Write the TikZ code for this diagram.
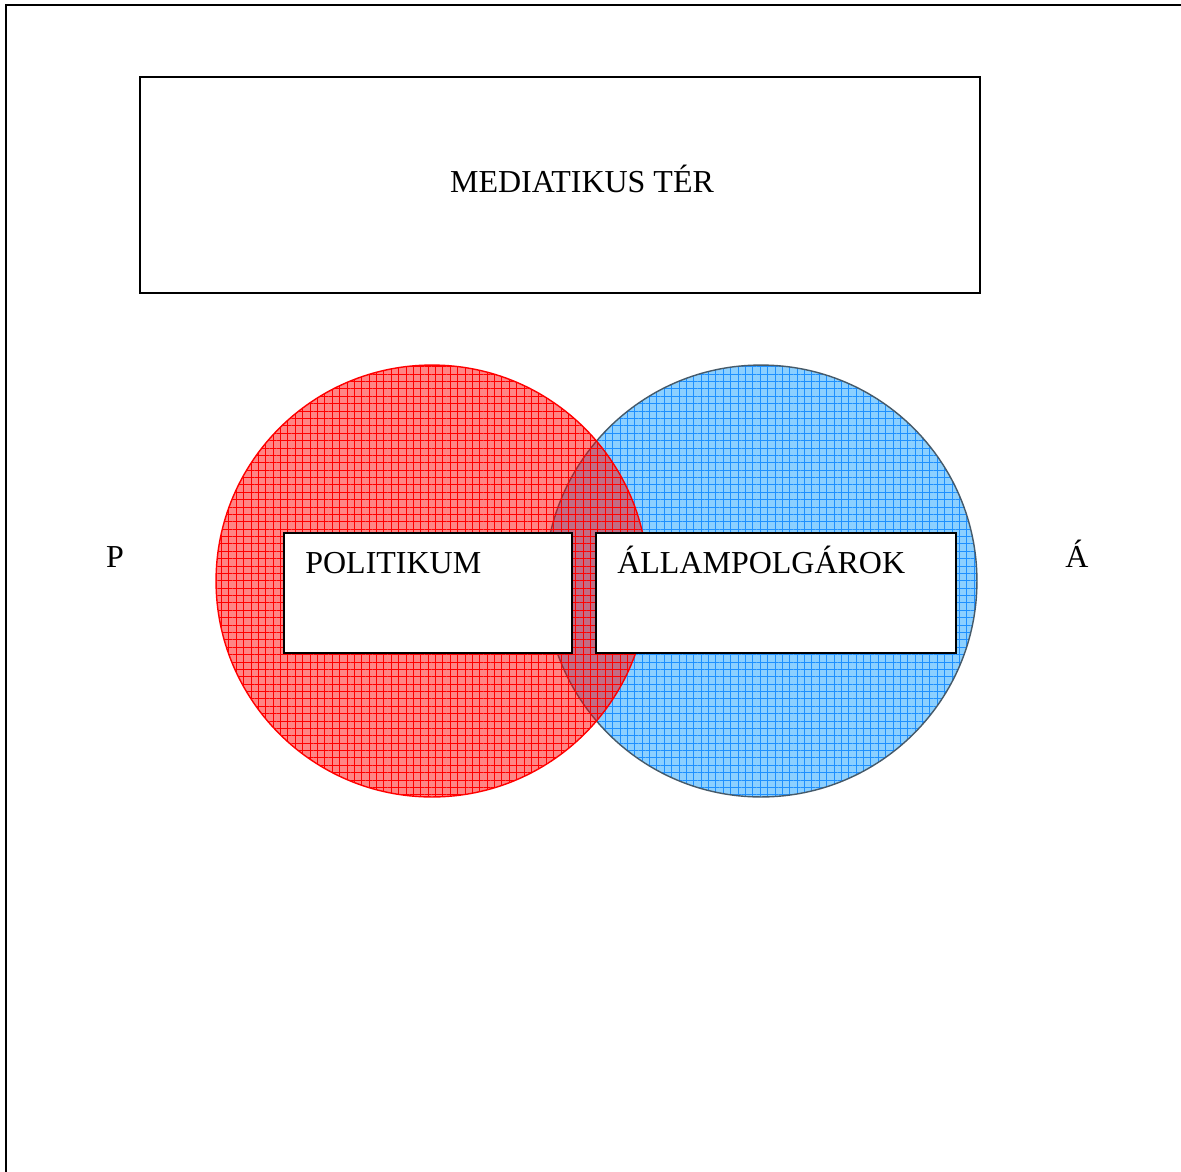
\documentclass[tikz,border=0pt]{standalone}
\usepackage{fontspec}
\setmainfont{Liberation Serif}
\usetikzlibrary{positioning,calc,patterns.meta}

\definecolor{skyfill}{RGB}{0,150,255}
\definecolor{skygrid}{RGB}{30,144,255}
\definecolor{skyedge}{RGB}{70,90,105}

\tikzset{
  box/.style={draw, line width=1.1pt, fill=white, inner sep=0pt},
  lbl/.style={font=\fontsize{18.2}{22}\selectfont, inner sep=0pt},
  gridfill/.style={pattern={Hatch[angle=0, distance=4.2pt, line width=0.35pt]}, pattern color=#1},
}

\begin{document}
\begin{tikzpicture}[x=0.02cm, y=-0.02cm]
  \useasboundingbox (0,0) rectangle (1181,1171);
  % frame
  \draw[line width=1.3pt] (6,1180) -- (6,5) -- (1190,5);

  \node[box, minimum width=16.8cm, minimum height=4.32cm] (media) at (560,185) {};
  \node[lbl, anchor=base] (mediatxt) at (582,192) {MEDIATIKUS TÉR};

  % circles
  \coordinate (pc) at (432,581);
  \coordinate (ac) at (761,581);
  \fill[skyfill, fill opacity=0.45] (ac) circle[radius=4.32cm];
  \path[gridfill=skygrid] (ac) circle[radius=4.32cm];
  \draw[skyedge, line width=0.8pt] (ac) circle[radius=4.32cm];
  \fill[red, fill opacity=0.48] (pc) circle[radius=4.32cm];
  \path[gridfill=red] (pc) circle[radius=4.32cm];
  \draw[red, line width=0.8pt] (pc) circle[radius=4.32cm];

  \node[box, minimum width=5.76cm, minimum height=2.4cm] (pol) at (428,593) {};
  \node[lbl, anchor=base west] (poltxt) at (305,573) {POLITIKUM};
  \node[box, minimum width=7.2cm, minimum height=2.4cm] (allam) at (776,593) {};
  \node[lbl, anchor=base west] (allamtxt) at (617,573) {ÁLLAMPOLGÁROK};

  \node[lbl, anchor=base] (p) at (115,567) {P};
  \node[lbl, anchor=base] (a) at (1077,567) {Á};
\end{tikzpicture}
\end{document}
